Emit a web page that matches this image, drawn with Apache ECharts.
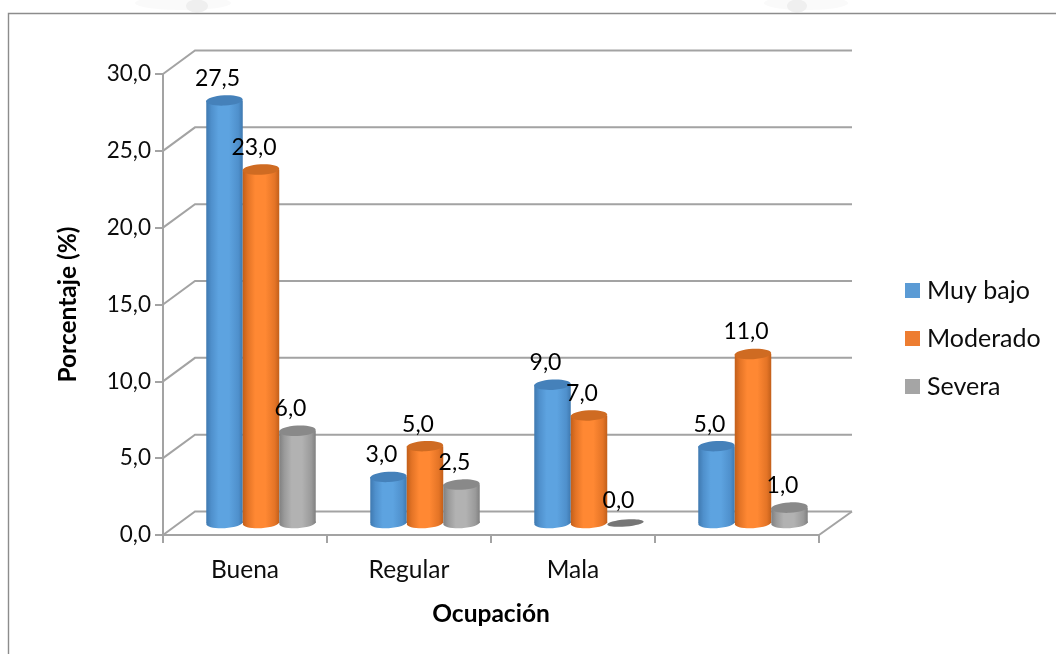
<!DOCTYPE html>
<html lang="es">
<head>
<meta charset="utf-8">
<style>html,body{margin:0;padding:0;background:#fff}#chart{width:1056px;height:654px}</style>
<script src="https://cdn.jsdelivr.net/npm/echarts@6/dist/echarts.min.js"></script>
</head>
<body>
<div id="chart"></div>
<script>
// Nivel por categoría de ocupación
const categorias = ['Buena', 'Regular', 'Mala', ''];
const muyBajo = [27.5, 3.0, 9.0, 5.0];
const moderado = [23.0, 5.0, 7.0, 11.0];
const severa = [6.0, 2.5, 0.0, 1.0];
const marcasEje = [0, 5, 10, 15, 20, 25, 30];

const FONT = 'Lato, "Open Sans", sans-serif';
const TEXTO = '#0d0d0d';
const coma = v => v.toFixed(1).replace('.', ',');

// Desplazamiento de la pared y del fondo para simular la profundidad
const PROF_X = 32, PROF_Y = 23.5;
const LINEA = '#a3a3a3';

// Tonos de cada cilindro: borde, transición, centro claro, tapa
const tonos = {
  azul: { base: '#5b9bd5', borde: '#3f79b0', medio: '#4f90cc', luz: '#5da3e0', tapa: '#4581ba' },
  naranja: { base: '#ed7d31', borde: '#c25f1a', medio: '#e47426', luz: '#ff8833', tapa: '#cf6b22' },
  gris: { base: '#a5a5a5', borde: '#808080', medio: '#9a9a9a', luz: '#b2b2b2', tapa: '#898989' }
};

function cilindro(indiceSerie, tono) {
  return function (params, api) {
    const cat = api.value(0), val = api.value(1);
    const banda = api.size([1, 0])[0];
    const paso = banda * 0.2225;
    const rx = paso / 2;
    const ry = 5.2;
    const origen = api.coord([cat, 0]);
    const cima = api.coord([cat, val]);
    const cx = origen[0] + PROF_X / 2 + (indiceSerie - 1) * paso;
    const yBase = origen[1] - 12;
    const yTop = cima[1] - 12;
    const grad = {
      type: 'linear', x: 0, y: 0, x2: 1, y2: 0,
      colorStops: [
        { offset: 0, color: tono.borde },
        { offset: 0.14, color: tono.medio },
        { offset: 0.34, color: tono.luz },
        { offset: 0.62, color: tono.luz },
        { offset: 0.88, color: tono.medio },
        { offset: 1, color: tono.borde }
      ]
    };
    const inclinacion = 0.05;
    const hijos = [];
    if (val > 0) {
      hijos.push({
        type: 'ellipse', x: cx, y: yBase, rotation: inclinacion,
        shape: { cx: 0, cy: 0, rx: rx, ry: ry }, style: { fill: grad }
      });
      hijos.push({
        type: 'rect',
        shape: { x: cx - rx, y: yTop, width: rx * 2, height: yBase - yTop },
        style: { fill: grad }
      });
    }
    hijos.push({
      type: 'ellipse', x: cx, y: yTop, rotation: val > 0 ? inclinacion : 0.08,
      shape: { cx: 0, cy: 0, rx: rx, ry: val > 0 ? ry : 3.6 },
      style: { fill: val > 0 ? tono.tapa : '#767676' }
    });
    hijos.push({
      type: 'text', z2: 100,
      x: cx - 7, y: yTop - 22,
      style: {
        text: coma(val), fill: '#000', font: '23px ' + FONT,
        align: 'center', verticalAlign: 'middle'
      }
    });
    return { type: 'group', children: hijos };
  };
}

function serieCilindro(nombre, valores, indice, tono) {
  return {
    name: nombre, type: 'custom', z: 5, clip: false,
    itemStyle: { color: tono.base },
    encode: { x: 0, y: 1 },
    data: valores.map((v, i) => [i, v]),
    renderItem: cilindro(indice, tono)
  };
}

// Líneas de pared: diagonal desde el eje y recorrido horizontal al fondo
function lineaPared(params, api) {
  const p = api.coord([0, api.value(1)]);
  const sis = params.coordSys;
  const x0 = sis.x, y = p[1];
  return {
    type: 'polyline',
    shape: { points: [[x0, y], [x0 + PROF_X, y - PROF_Y], [x0 + sis.width + PROF_X + 1, y - PROF_Y]] },
    style: { stroke: LINEA, lineWidth: 2, fill: null }
  };
}

// Cierre derecho del piso
function cierrePiso(params, api) {
  const p = api.coord([0, api.value(1)]);
  const sis = params.coordSys;
  return {
    type: 'line',
    shape: { x1: sis.x + sis.width, y1: p[1], x2: sis.x + sis.width + PROF_X + 1, y2: p[1] - PROF_Y },
    style: { stroke: LINEA, lineWidth: 2 }
  };
}

const grafico = echarts.init(document.getElementById('chart'), null, { renderer: 'canvas' });
grafico.setOption({
  animation: false,
  backgroundColor: '#fff',
  textStyle: { fontFamily: FONT },
  grid: { left: 163, top: 74, width: 656, height: 461, containLabel: false },
  legend: {
    orient: 'vertical', left: 905, top: 278, padding: 0,
    itemWidth: 15, itemHeight: 15, itemGap: 23,
    icon: 'rect', selectedMode: false,
    data: ['Muy bajo', 'Moderado', 'Severa'],
    textStyle: { fontFamily: FONT, fontSize: 25, color: TEXTO, padding: [0, 0, 0, 2] }
  },
  xAxis: {
    type: 'category', data: categorias,
    name: 'Ocupación', nameLocation: 'middle', nameGap: 67,
    nameTextStyle: { fontFamily: FONT, fontSize: 24.5, fontWeight: 'bold', color: '#000' },
    axisLine: { lineStyle: { color: LINEA, width: 2 } },
    axisTick: { show: true, length: 8, lineStyle: { color: LINEA, width: 2 } },
    axisLabel: { margin: 23, fontSize: 24.5, color: TEXTO, interval: 0 },
    splitLine: { show: false }
  },
  yAxis: {
    type: 'value', min: 0, max: 30, interval: 5,
    name: 'Porcentaje (%)', nameLocation: 'middle', nameGap: 82,
    nameTextStyle: { fontFamily: FONT, fontSize: 24.5, fontWeight: 'bold', color: '#000' },
    axisLine: { show: true, lineStyle: { color: LINEA, width: 2 } },
    axisTick: { show: true, length: 8, lineStyle: { color: LINEA, width: 2 } },
    axisLabel: { margin: 12, fontSize: 22.5, color: TEXTO, formatter: v => coma(v) },
    splitLine: { show: false }
  },
  series: [
    {
      name: 'Pared', type: 'custom', z: 1, clip: false, silent: true,
      encode: { x: 0, y: 1 },
      data: marcasEje.map(v => [0, v]),
      renderItem: lineaPared
    },
    {
      name: 'Piso', type: 'custom', z: 1, clip: false, silent: true,
      encode: { x: 0, y: 1 },
      data: [[0, 0]],
      renderItem: cierrePiso
    },
    serieCilindro('Muy bajo', muyBajo, 0, tonos.azul),
    serieCilindro('Moderado', moderado, 1, tonos.naranja),
    serieCilindro('Severa', severa, 2, tonos.gris)
  ],
  graphic: [
    // Rastros tenues del sello en el margen superior
    { type: 'ellipse', z: -2, shape: { cx: 183, cy: 3, rx: 48, ry: 7 }, style: { fill: '#fafafa' } },
    { type: 'ellipse', z: -2, shape: { cx: 197, cy: 6, rx: 11, ry: 6.5 }, style: { fill: '#efefef' } },
    { type: 'ellipse', z: -2, shape: { cx: 806, cy: 3, rx: 42, ry: 7 }, style: { fill: '#fafafa' } },
    { type: 'ellipse', z: -2, shape: { cx: 797, cy: 6, rx: 10, ry: 6.5 }, style: { fill: '#efefef' } },
    // Marco del área del gráfico
    { type: 'polyline', z: -1, shape: { points: [[1056, 13.5], [8.5, 13.5], [8.5, 654]] }, style: { stroke: '#8c8c8c', lineWidth: 1.4, fill: null } }
  ]
});
</script>
</body>
</html>
